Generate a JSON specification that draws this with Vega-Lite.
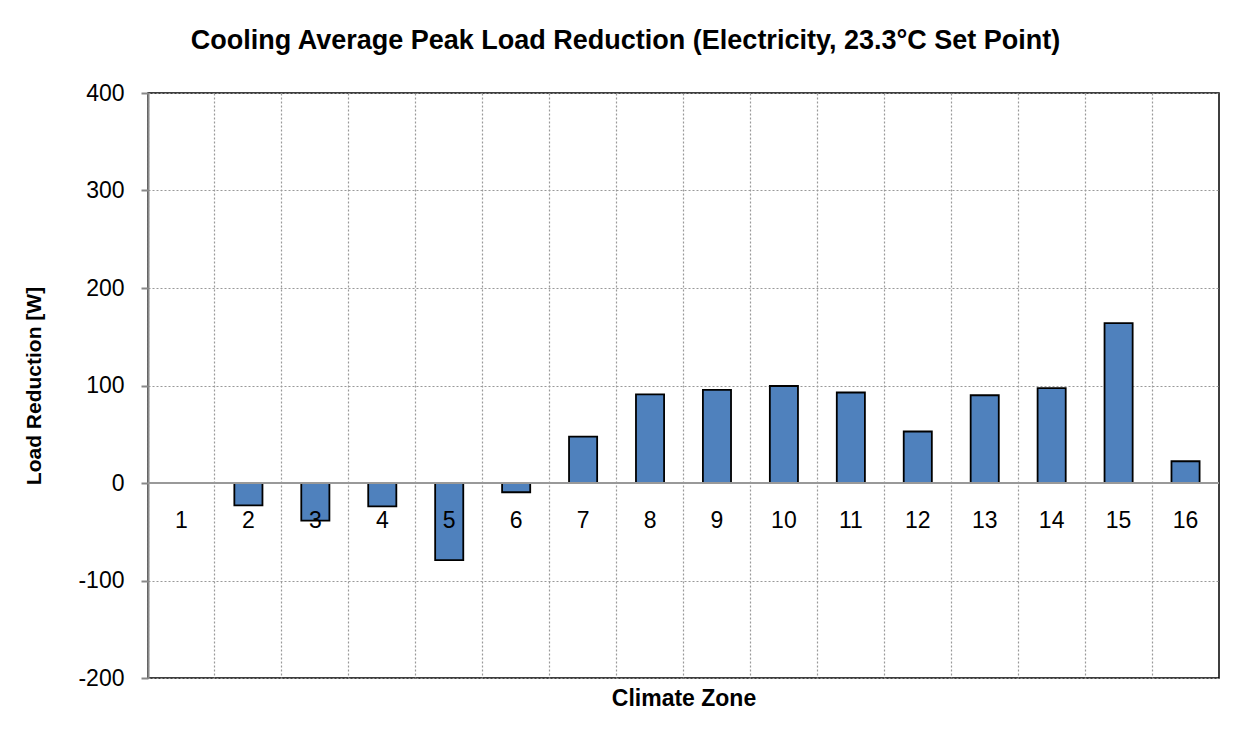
{
  "$schema": "https://vega.github.io/schema/vega-lite/v6.json",
  "width": 1071,
  "height": 585,
  "autosize": {"type": "none"},
  "padding": {"left": 148, "top": 93, "right": 30, "bottom": 70},
  "background": "white",
  "config": {
    "font": "Liberation Sans",
    "view": {"stroke": "black", "strokeWidth": 1.5}
  },
  "title": {
    "text": "Cooling Average Peak Load Reduction (Electricity, 23.3°C Set Point)",
    "fontSize": 27,
    "fontWeight": "bold",
    "font": "Liberation Sans",
    "color": "black",
    "anchor": "middle",
    "dx": -58,
    "offset": 27
  },
  "data": {
    "values": [
      {"zone": 1, "value": 0},
      {"zone": 2, "value": -23},
      {"zone": 3, "value": -38.5},
      {"zone": 4, "value": -24},
      {"zone": 5, "value": -79},
      {"zone": 6, "value": -9.5},
      {"zone": 7, "value": 47.5},
      {"zone": 8, "value": 91},
      {"zone": 9, "value": 95.5},
      {"zone": 10, "value": 99.5},
      {"zone": 11, "value": 92.8},
      {"zone": 12, "value": 52.8},
      {"zone": 13, "value": 90},
      {"zone": 14, "value": 97.3},
      {"zone": 15, "value": 164},
      {"zone": 16, "value": 22.3}
    ]
  },
  "encoding": {
    "x": {
      "field": "zone",
      "type": "ordinal",
      "scale": {"paddingInner": 0, "paddingOuter": 0},
      "axis": {
        "title": "Climate Zone",
        "titleFontSize": 23,
        "titleFontWeight": "bold",
        "titleColor": "black",
        "titlePadding": 9,
        "labels": false,
        "ticks": false,
        "domain": false,
        "bandPosition": 0,
        "grid": true,
        "gridDash": [2, 2],
        "gridColor": "#999999",
        "gridWidth": 1.2
      }
    }
  },
  "layer": [
    {
      "mark": {"type": "bar", "fill": "#4F81BD", "stroke": "black", "strokeWidth": 1.8, "width": {"band": 0.42}},
      "encoding": {
        "y": {
          "field": "value",
          "type": "quantitative",
          "scale": {"domain": [-200, 400], "nice": false, "zero": false},
          "axis": {
            "values": [-200, -100, 0, 100, 200, 300, 400],
            "labelExpr": "'' + datum.value",
            "title": "Load Reduction [W]",
            "titleFontSize": 21,
            "titleFontWeight": "bold",
            "titleColor": "black",
            "titlePadding": 33,
            "labelFontSize": 23,
            "labelColor": "black",
            "labelPadding": 17,
            "tickSize": 7,
            "tickColor": "#888888",
            "tickWidth": 2,
            "domainColor": "#888888",
            "domainWidth": 2,
            "grid": true,
            "gridDash": [2, 2],
            "gridColor": "#999999",
            "gridWidth": 1.2
          }
        }
      }
    },
    {
      "mark": {"type": "rule", "color": "#999999", "strokeWidth": 2},
      "encoding": {"y": {"datum": 0}, "x": null}
    },
    {
      "mark": {"type": "text", "fontSize": 23, "color": "black", "dy": 38, "baseline": "middle"},
      "encoding": {
        "y": {"datum": 0},
        "text": {"field": "zone", "type": "nominal"}
      }
    }
  ]
}
